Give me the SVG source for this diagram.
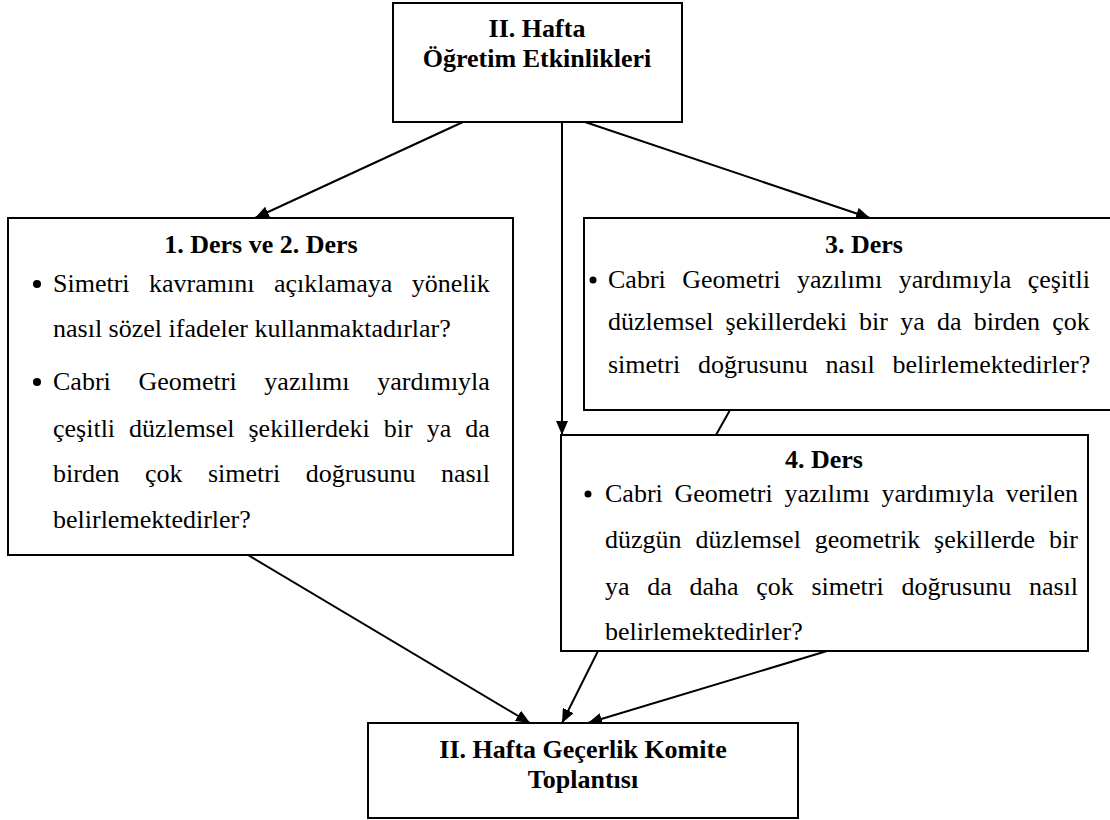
<svg xmlns="http://www.w3.org/2000/svg" width="1110" height="820" viewBox="0 0 1110 820">
  <style>
    .box { fill: #ffffff; stroke: #000000; stroke-width: 2; }
    .ttl { font-family: "Liberation Serif", "Times New Roman", serif; font-size: 26px; font-weight: bold; fill: #000000; text-anchor: middle; }
    .txt { font-family: "Liberation Serif", "Times New Roman", serif; font-size: 26px; font-weight: normal; fill: #000000; }
    .bul { fill: #000000; }
    .con { stroke: #000000; stroke-width: 2; fill: none; }
  </style>
  <defs>
    <marker id="arrow" markerUnits="userSpaceOnUse" markerWidth="15" markerHeight="12" refX="14" refY="6" orient="auto">
      <path d="M0,0 L14,6 L0,12 z" fill="#000000"/>
    </marker>
  </defs>
  <rect x="0" y="0" width="1110" height="820" fill="#ffffff"/>

  <!-- connectors -->
  <g id="connectors">
    <line class="con" x1="463" y1="122" x2="255" y2="218" marker-end="url(#arrow)"/>
    <line class="con" x1="562" y1="122" x2="562" y2="435" marker-end="url(#arrow)"/>
    <line class="con" x1="585" y1="122" x2="870" y2="218" marker-end="url(#arrow)"/>
    <line class="con" x1="730" y1="410" x2="716" y2="435"/>
    <line class="con" x1="248" y1="555" x2="530" y2="723" marker-end="url(#arrow)"/>
    <line class="con" x1="598" y1="651" x2="562" y2="723" marker-end="url(#arrow)"/>
    <line class="con" x1="827" y1="651" x2="588" y2="723" marker-end="url(#arrow)"/>
  </g>

  <!-- week II activities -->
  <g id="hafta">
    <rect class="box" x="393" y="3" width="289" height="119"/>
    <text class="ttl" x="537" y="37">II. Hafta</text>
    <text class="ttl" x="537" y="67">Öğretim Etkinlikleri</text>
  </g>

  <!-- lessons 1 and 2 -->
  <g id="ders12">
    <rect class="box" x="8" y="218" width="505" height="337"/>
    <text class="ttl" x="261" y="253">1. Ders ve 2. Ders</text>
    <circle class="bul" cx="37" cy="284" r="4"/>
    <text class="txt" x="53" y="292" word-spacing="13">Simetri kavramını açıklamaya yönelik</text>
    <text class="txt" x="53" y="337">nasıl sözel ifadeler kullanmaktadırlar?</text>
    <circle class="bul" cx="37" cy="382" r="4"/>
    <text class="txt" x="53" y="390" word-spacing="21.2">Cabri Geometri yazılımı yardımıyla</text>
    <text class="txt" x="53" y="437" word-spacing="7.5">çeşitli düzlemsel şekillerdeki bir ya da</text>
    <text class="txt" x="53" y="482" word-spacing="19">birden çok simetri doğrusunu nasıl</text>
    <text class="txt" x="53" y="528">belirlemektedirler?</text>
  </g>

  <!-- lesson 3 -->
  <g id="ders3">
    <rect class="box" x="584" y="218" width="560" height="192"/>
    <text class="ttl" x="864" y="253">3. Ders</text>
    <circle class="bul" cx="593" cy="280" r="3.5"/>
    <text class="txt" x="608" y="288" word-spacing="10">Cabri Geometri yazılımı yardımıyla çeşitli</text>
    <text class="txt" x="608" y="330" word-spacing="5.7">düzlemsel şekillerdeki bir ya da birden çok</text>
    <text class="txt" x="608" y="373" word-spacing="11.3">simetri doğrusunu nasıl belirlemektedirler?</text>
  </g>

  <!-- lesson 4 -->
  <g id="ders4">
    <rect class="box" x="561" y="435" width="527" height="216"/>
    <text class="ttl" x="824" y="468">4. Ders</text>
    <circle class="bul" cx="588" cy="494" r="3.5"/>
    <text class="txt" x="605" y="502" word-spacing="5.25">Cabri Geometri yazılımı yardımıyla verilen</text>
    <text class="txt" x="605" y="548" word-spacing="7.4">düzgün düzlemsel geometrik şekillerde bir</text>
    <text class="txt" x="605" y="595" word-spacing="11.2">ya da daha çok simetri doğrusunu nasıl</text>
    <text class="txt" x="605" y="640">belirlemektedirler?</text>
  </g>

  <!-- validity committee meeting -->
  <g id="komite">
    <rect class="box" x="368" y="723" width="430" height="95"/>
    <text class="ttl" x="583" y="758">II. Hafta Geçerlik Komite</text>
    <text class="ttl" x="583" y="788">Toplantısı</text>
  </g>
</svg>
